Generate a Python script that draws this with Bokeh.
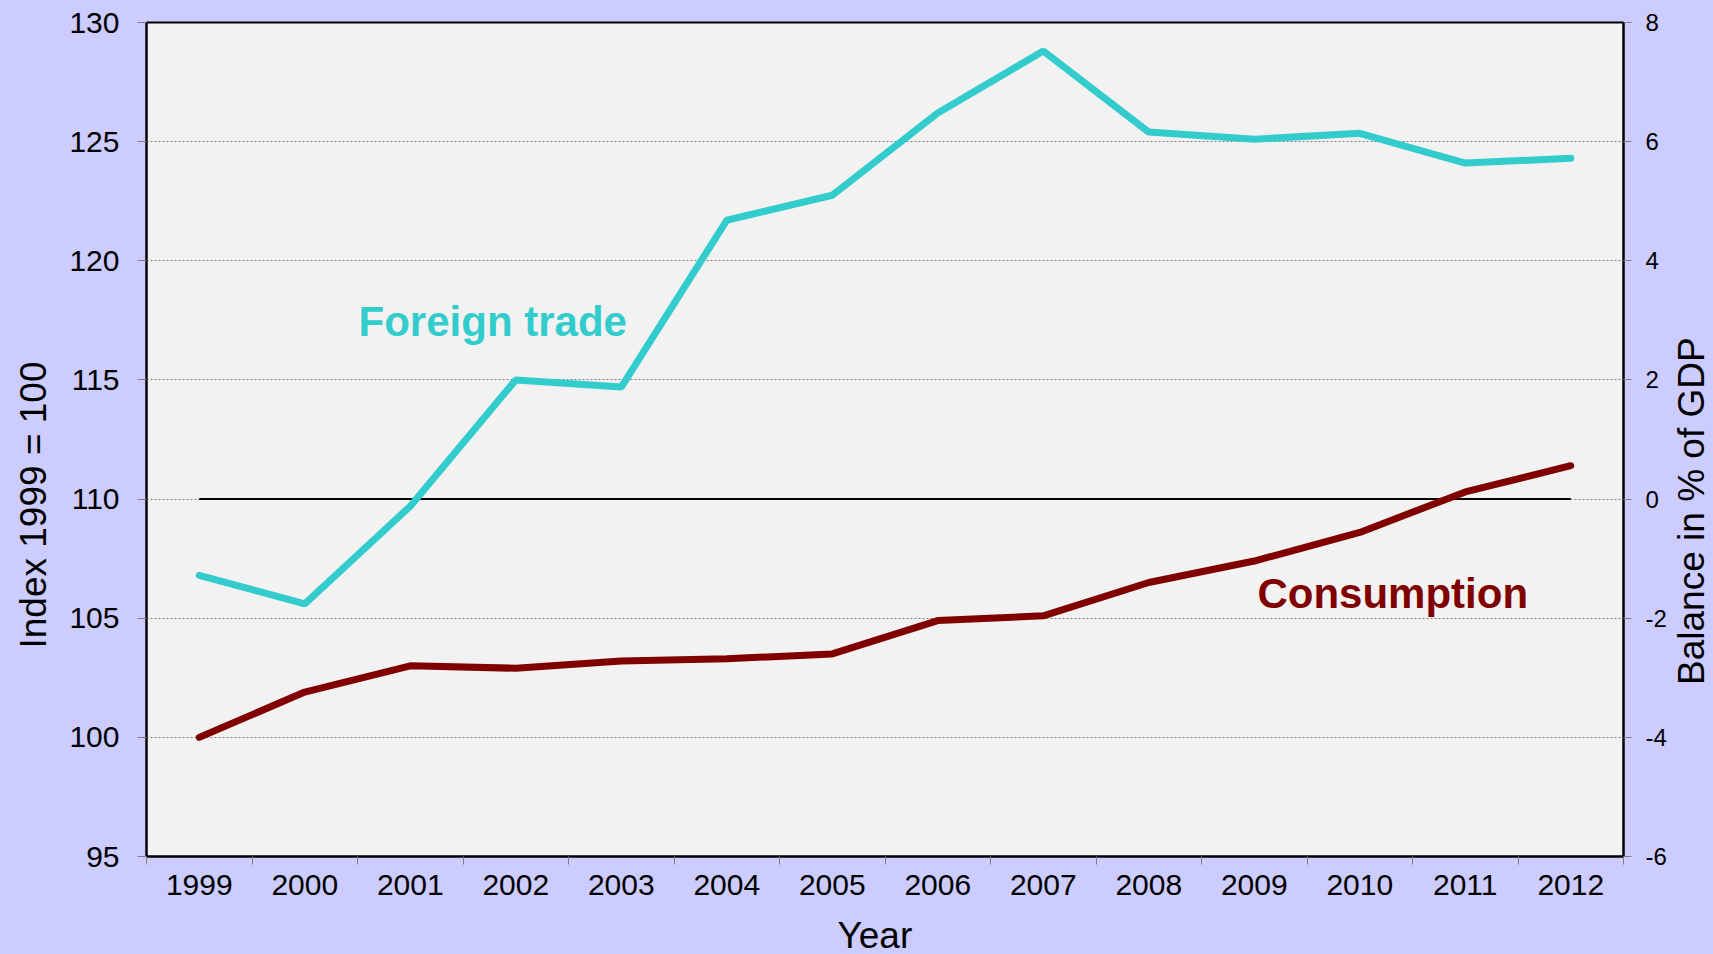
import math
from bokeh.plotting import figure
from bokeh.models import Range1d, LinearAxis, FixedTicker, Title
from bokeh.core.properties import value
from bokeh.embed import file_html
from bokeh.resources import INLINE

years = [1999, 2000, 2001, 2002, 2003, 2004, 2005, 2006, 2007, 2008, 2009, 2010, 2011, 2012]
foreign_trade = [106.8, 105.6, 109.7, 115.0, 114.7, 121.7, 122.75, 126.2, 128.8, 125.4, 125.1, 125.35, 124.1, 124.3]
consumption = [100.0, 101.9, 103.0, 102.9, 103.2, 103.3, 103.5, 104.9, 105.1, 106.5, 107.4, 108.6, 110.3, 111.4]
balance = [0, 0, 0, 0, 0, 0, 0, 0, 0, 0, 0, 0, 0, 0]
left_ticks = [95, 100, 105, 110, 115, 120, 125, 130]
right_ticks = [-6, -4, -2, 0, 2, 4, 6, 8]

FONT = "Liberation Sans"
BG = "#CCCCFF"

p = figure(frame_width=1477, frame_height=834, output_backend="svg", toolbar_location=None,
           x_range=Range1d(1998.5, 2012.5), y_range=Range1d(95, 130),
           min_border_left=146, min_border_right=90, min_border_top=22, min_border_bottom=98)
p.extra_y_ranges = {"balance": Range1d(-6, 8)}
p.background_fill_color = "#F2F2F2"
p.border_fill_color = BG
p.outline_line_color = "black"
p.outline_line_width = 2

# x axis: labels at centers, tick marks between years
xa = p.xaxis[0]
xa.ticker = FixedTicker(ticks=years, minor_ticks=[y - 0.5 for y in years] + [years[-1] + 0.5])
xa.major_tick_out = 0
xa.major_tick_in = 0
xa.minor_tick_out = 8
xa.minor_tick_in = 0
xa.minor_tick_line_color = "#808080"

ya = p.yaxis[0]
ya.ticker = FixedTicker(ticks=left_ticks)
ya.major_tick_out = 9
ya.major_tick_in = 0
ya.minor_tick_line_color = None

ra = LinearAxis(y_range_name="balance", ticker=FixedTicker(ticks=right_ticks))
ra.major_tick_out = 8
ra.major_tick_in = 0
ra.minor_tick_line_color = None
ra.major_label_overrides = {t: str(t) for t in right_ticks}
p.add_layout(ra, "right")

for ax in [xa, ya, ra]:
    ax.axis_line_color = "black"
    ax.axis_line_width = 2
    ax.major_tick_line_color = "#808080"
    ax.major_label_text_font = FONT
    ax.major_label_text_color = "black"

xa.major_label_text_font_size = "30px"
ya.major_label_text_font_size = "30px"
ra.major_label_text_font_size = "24px"
xa.major_label_standoff = 10
ya.major_label_standoff = 18
ra.major_label_standoff = 14

# right-hand axis title, drawn as a rotated label on a bare axis
rt = LinearAxis(y_range_name="balance", ticker=FixedTicker(ticks=[-3.12], minor_ticks=[]),
                major_label_overrides={-3.12: "Balance in % of GDP"},
                major_label_orientation=math.pi / 2)
rt.axis_line_color = None
rt.major_tick_line_color = None
rt.minor_tick_line_color = None
rt.major_tick_out = 0
rt.major_tick_in = 0
rt.major_label_standoff = 22
rt.major_label_text_font = FONT
rt.major_label_text_font_size = "37px"
rt.major_label_text_color = "black"
p.add_layout(rt, "right")

# other axis titles
p.add_layout(Title(text="Year", align="left", offset=691, standoff=30, vertical_align="bottom",
                   text_font=FONT, text_font_size="37px", text_font_style="normal",
                   text_color="black"), "below")
p.add_layout(Title(text="Index 1999 = 100", align="left", offset=208, standoff=22,
                   vertical_align="top", text_font=FONT, text_font_size="37px",
                   text_font_style="normal", text_color="black"), "left")

p.xgrid.visible = False
p.ygrid.grid_line_color = "#808080"
p.ygrid.grid_line_dash = "2 2"
p.ygrid.grid_line_width = 1

p.line(years, balance, y_range_name="balance", line_color="black", line_width=2)
p.line(years, foreign_trade, line_color="#33CCCC", line_width=7, line_cap="round")
p.line(years, consumption, line_color="#800000", line_width=7, line_cap="round")

p.text(x=[2000.51], y=[117.46], text=["Foreign trade"], text_color="#33CCCC",
       text_font=value(FONT), text_font_style="bold", text_font_size="42px",
       text_baseline="alphabetic", text_align="left")
p.text(x=[2009.03], y=[106.05], text=["Consumption"], text_color="#800000",
       text_font=value(FONT), text_font_style="bold", text_font_size="42px",
       text_baseline="alphabetic", text_align="left")

html = file_html(p, INLINE)
html = html.replace("<head>", "<head><style>html,body{background:#CCCCFF;overflow:hidden;}</style>", 1)
open("out.html", "w").write(html)
